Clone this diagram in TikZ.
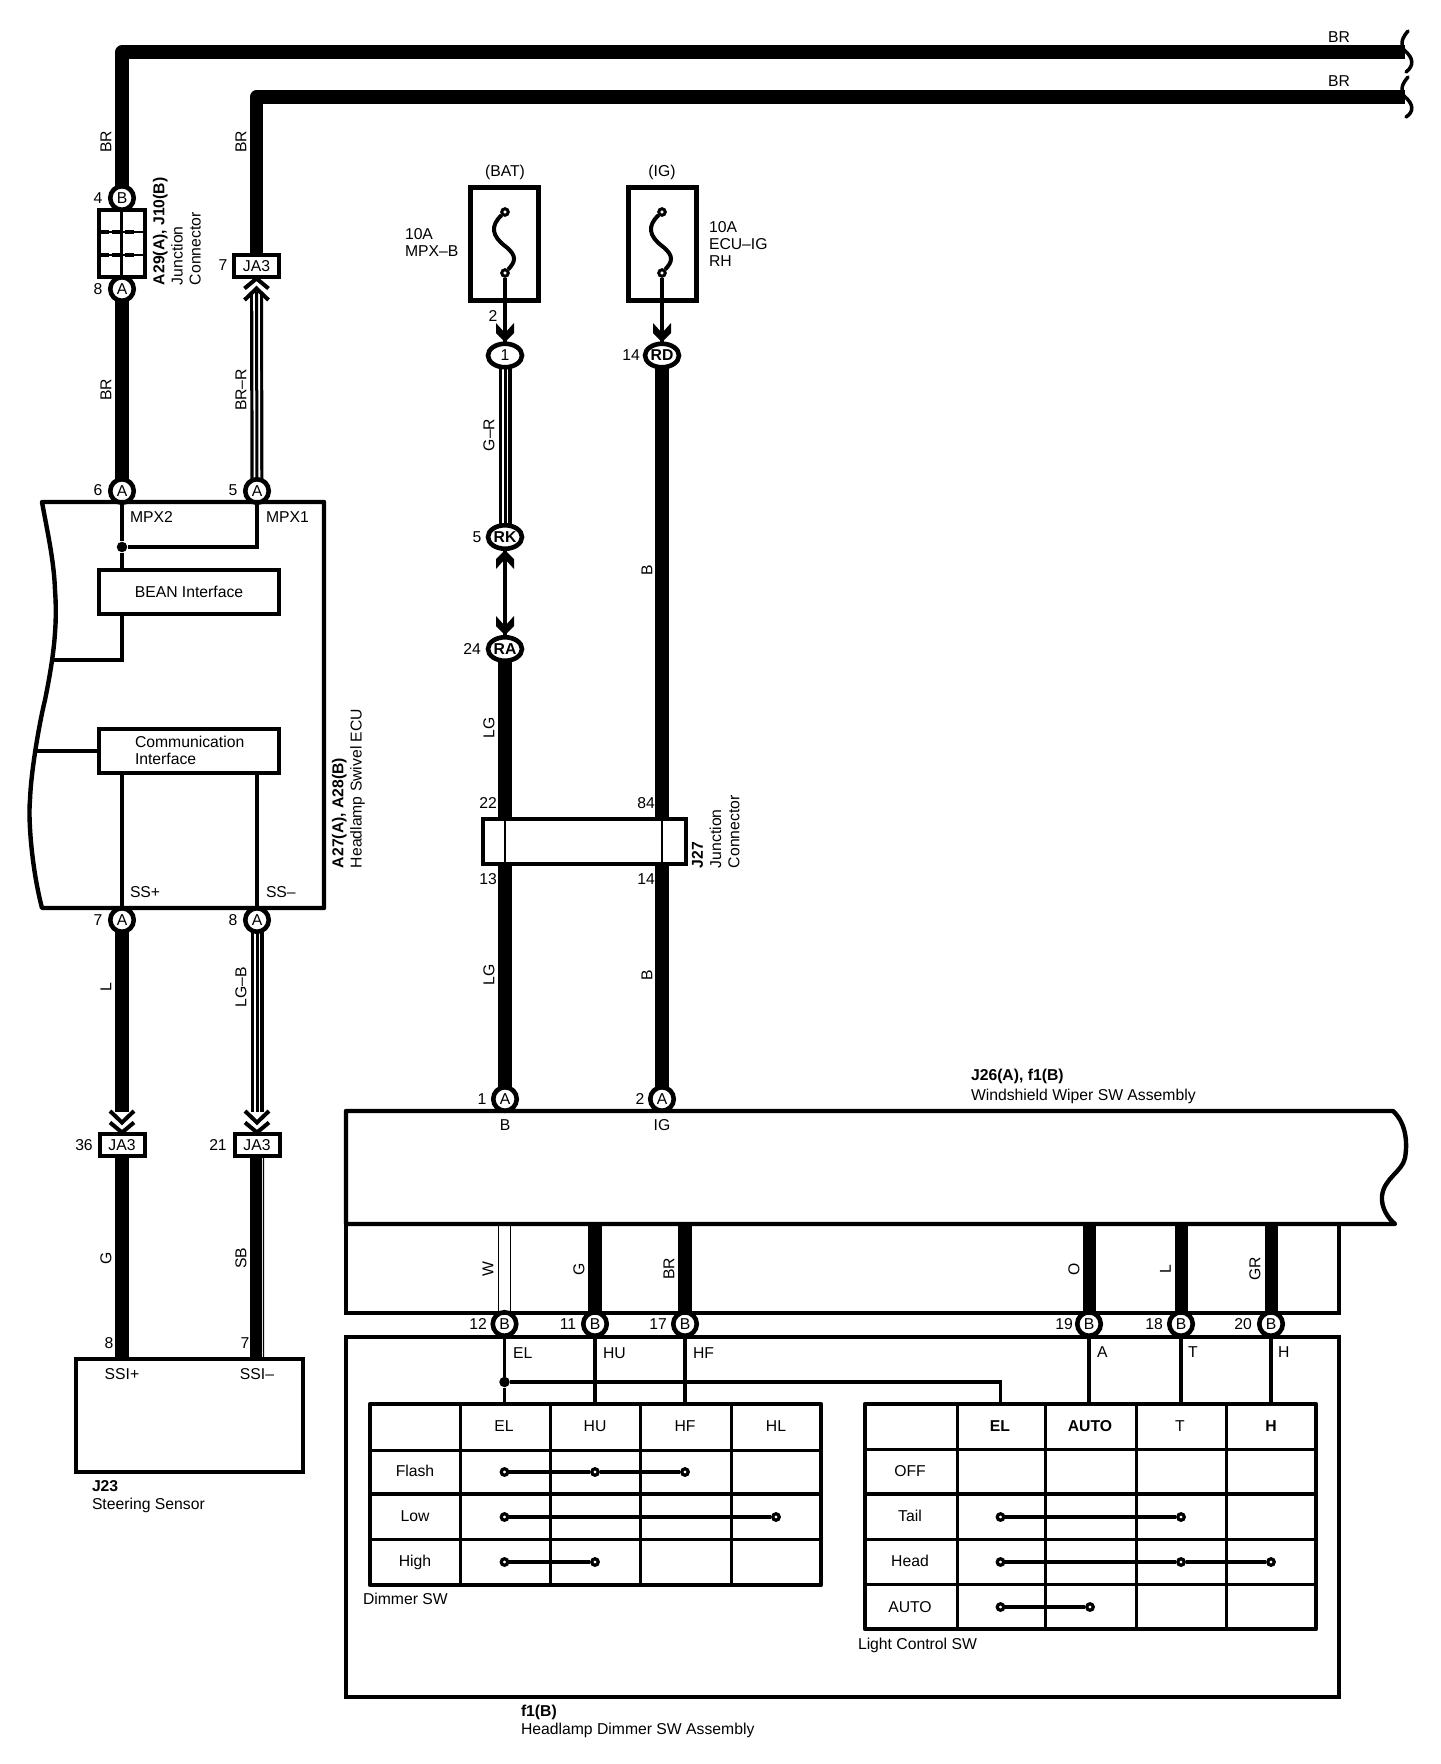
\documentclass[tikz,border=0pt]{standalone}
\usepackage{fontspec}
\setmainfont{Liberation Sans}
\usetikzlibrary{shapes.geometric,backgrounds}
\def\pxu{*0.75pt}
\tikzset{
  base/.style={font=\fontsize{11.8}{12.6}\selectfont, inner sep=0pt, outer sep=0pt},
  lab/.style={base},
  labl/.style={base, anchor=west},
  vlab/.style={base, rotate=90},
  vblock/.style={base, rotate=90, anchor=north west, align=left, font=\fontsize{11.8}{13.6}\selectfont},
  block/.style={base, anchor=north west, align=left},
  title block/.style={base, anchor=north west, align=left, font=\fontsize{11.8}{13.6}\selectfont},
  term/.style={base, circle, draw, fill=white, line width=4.6\pxu, minimum size=23.5\pxu},
  oval/.style={base, ellipse, draw, fill=white, line width=4.6\pxu, minimum width=34\pxu, minimum height=23.5\pxu},
  ja/.style={base, rectangle, draw, fill=white, line width=4\pxu, minimum width=45\pxu, minimum height=22\pxu},
  ebox/.style={base, rectangle, draw, line width=4\pxu},
  fusebox/.style={ebox, line width=4.4\pxu, minimum width=68\pxu, minimum height=113\pxu},
  fpin/.style={circle, draw, fill=white, line width=3\pxu, minimum size=6.5\pxu, inner sep=0pt},
  sdot/.style={circle, draw, fill=white, line width=3.2\pxu, minimum size=6.5\pxu, inner sep=0pt},
  jdot/.style={circle, fill=black, minimum size=10.5\pxu, inner sep=0pt},
  fat/.style={line width=13.5\pxu},
  thin wire/.style={line width=3.2\pxu},
  outline/.style={line width=4.4\pxu, line join=round},
  gridline/.style={line width=3\pxu},
  solidchev down/.pic={\fill (-9,-19) -- (0,-9) -- (9,-19) -- (9,-9) -- (0,0) -- (-9,-9) -- cycle;},
  solidchev up/.pic={\fill (-9,19) -- (0,9) -- (9,19) -- (9,9) -- (0,0) -- (-9,9) -- cycle;},
  openchev down/.pic={\draw[white, line width=5\pxu] (-8,-8) -- (0,-3) -- (8,-8);\draw[line width=4\pxu] (-12,-23) -- (0,-11.5) -- (12,-23) (-12,-11.5) -- (0,-1.5) -- (12,-11.5);},
  openchev up/.pic={\draw[line width=4\pxu] (-12,23) -- (0,11.5) -- (12,23) (-12,11.5) -- (0,1.5) -- (12,11.5);},
}
\newcommand\triplewire[2]{%
  \draw[fat, line width=13\pxu] (#1) -- (#2);
  \draw[white, line width=1.8\pxu, double=black, double distance=3\pxu] (#1) -- (#2);}
\begin{document}
\begin{tikzpicture}[x=0.75pt, y=-0.75pt]
\useasboundingbox (0,0) rectangle (1440,1764);

% ---------- terminals ----------
\node[term] (tB4) at (122,198) {B};
\node[term] (tA8) at (122,289) {A};
\node[term] (tA6) at (122,491) {A};
\node[term] (tA5) at (257,491) {A};
\node[term] (tA7) at (122,920) {A};
\node[term] (tA8b) at (257,920) {A};
\node[ja] (ja7) at (256.5,266) {JA3};
\node[ja] (ja36) at (122,1145) {JA3};
\node[ja] (ja21) at (257,1145) {JA3};
\node[oval] (o1) at (505,355.5) {1};
\node[oval] (oRD) at (662,355.5) {\bfseries RD};
\node[oval] (oRK) at (505,537) {\bfseries RK};
\node[oval] (oRA) at (505,649) {\bfseries RA};
\node[term] (tA1) at (505,1099) {A};
\node[term] (tA2) at (662,1099) {A};
\node[term] (tB12) at (504.5,1324) {B};
\node[term] (tB11) at (595,1324) {B};
\node[term] (tB17) at (685,1324) {B};
\node[term] (tB19) at (1089,1324) {B};
\node[term] (tB18) at (1181,1324) {B};
\node[term] (tB20) at (1271,1324) {B};

% ---------- fuses ----------
\node[fusebox] (fBAT) at (504.5,244) {};
\node[fusebox] (fIG) at (662.5,244) {};
\node[fpin] (fBt) at (505,212) {};
\node[fpin] (fBb) at (505,273) {};
\node[fpin] (fIt) at (662,212) {};
\node[fpin] (fIb) at (662,273) {};
\draw[line width=4\pxu] (fBt) .. controls (490,226) and (492,236) .. (505,246) .. controls (518,256) and (515,262) .. (fBb);
\draw[line width=4\pxu] (fIt) .. controls (647,226) and (649,236) .. (662,246) .. controls (675,256) and (672,262) .. (fIb);
\coordinate (chB) at (505,342);
\coordinate (chI) at (662,342);
\coordinate (chK) at (505,550);
\coordinate (chA) at (505,635);
\draw[thin wire] (fBb) -- (chB);
\draw[thin wire] (fIb) -- (chI);
\draw[thin wire] (chK) -- (chA);
\pic at (chB) {solidchev down};
\pic at (chI) {solidchev down};
\pic at (chK) {solidchev up};
\pic at (chA) {solidchev down};

% ---------- J27 ----------
\node[ebox, minimum width=203\pxu, minimum height=45\pxu, fill=white] (J27) at (584,841) {};

% ---------- wires, background layer so terminals sit over them ----------
\coordinate (endA) at (1405,52);
\coordinate (endB) at (1405,97);
\coordinate (cornA) at (122,52);
\coordinate (cornB) at (256.5,97);
\coordinate (upch) at (256.5,292);
\coordinate (dnL) at (122,1112);
\coordinate (dnB) at (257,1112);
\begin{pgfonlayer}{background}
\fill[white] (0,0) rectangle (1440,1764);
\draw[fat, line join=round] (tB4.center) -- (cornA) -- (endA);
\draw[fat, line join=round] (ja7.center) -- (cornB) -- (endB);
\draw[fat] (tA8.center) -- (tA6.center);
\triplewire{upch}{tA5.center}
\draw[fat] (tA7.center) -- (dnL);
\triplewire{tA8b.center}{dnB}
\draw[fat] (ja36.center) -- (122,1360);
\triplewire{o1.center}{oRK.center}
\draw[fat] (oRA.center) -- (505,820);
\draw[fat] (oRD.center) -- (662,820);
\draw[fat] (505,862) -- (tA1.center);
\draw[fat] (662,862) -- (tA2.center);
\end{pgfonlayer}
\draw[line width=2.5\pxu] (505,818) -- (505,864) (662,818) -- (662,864);
\pic at (ja7.south) {openchev up};
\pic at (ja36.north) {openchev down};
\pic at (ja21.north) {openchev down};

% SB wire with its thin white stripe
\begin{pgfonlayer}{background}
\draw[line width=11.5\pxu] ([xshift=-0.75pt]ja21.center) -- (256,1360);
\draw[line width=1.2\pxu] ([xshift=4.8pt]ja21.center) -- (263.4,1360);
\end{pgfonlayer}

% squiggle ends of the top wires
\draw[line width=3.5\pxu, line cap=round] (1408,31) .. controls (1402,38) and (1400,44) .. (1404,50) .. controls (1414,58) and (1414,66) .. (1406,72);
\draw[line width=3.5\pxu, line cap=round] (1408,77) .. controls (1402,84) and (1400,90) .. (1404,96) .. controls (1414,104) and (1414,112) .. (1406,117);

% ---------- junction connector A29/J10 ----------
\node[ebox, minimum width=46\pxu, minimum height=67\pxu, fill=white] (A29) at (121.5,243) {};
\draw[line width=3.5\pxu] (A29.north) -- (A29.south);
\draw[line width=1.5\pxu] (A29.west |- 0,232) -- (A29.east |- 0,232) (A29.west |- 0,255) -- (A29.east |- 0,255);
\draw[line width=4\pxu, dash pattern=on 9\pxu off 2.5\pxu on 11\pxu off 2.5\pxu on 9\pxu off 14\pxu] (100,232) -- (144,232);
\draw[line width=4\pxu, dash pattern=on 9\pxu off 2.5\pxu on 11\pxu off 2.5\pxu on 9\pxu off 14\pxu] (100,255) -- (144,255);

% ---------- Headlamp Swivel ECU ----------
\coordinate (ecuW1) at (52,660);
\coordinate (ecuW2) at (36,751);
\draw[outline] (42,502) -- (324,502) -- (324,908) -- (42,908)
  .. controls (32,870) and (28,820) .. (30,800)
  .. controls (31,770) and (40,720) .. (45,700)
  .. controls (52,665) and (58,630) .. (55,590)
  .. controls (54,560) and (47,530) .. cycle;
\node[ebox, minimum width=180\pxu, minimum height=44\pxu, fill=white] (bean) at (189,592) {};
\node[base] (beanText) at (bean.center) {BEAN Interface};
\node[ebox, minimum width=180\pxu, minimum height=44\pxu, fill=white] (comm) at (189,751) {};
\node[block, anchor=west] (commText) at (135,750) {Communication\\Interface};
\node[jdot] (dMPX) at (122,547) {};
\coordinate (mpx1top) at (257,502);
\draw[thin wire] (tA6) -- (dMPX) -- (bean.north -| dMPX);
\draw[thin wire] (tA5) -- (mpx1top) -- (257,547) -- (dMPX);
\draw[thin wire] (bean.south -| dMPX) -- (122,660) -- (ecuW1);
\draw[thin wire] (comm.west) -- (ecuW2);
\draw[thin wire] (comm.south -| tA7) -- (tA7);
\draw[thin wire] (comm.south -| tA8b) -- (tA8b);

% ---------- Steering sensor ----------
\node[ebox, minimum width=227\pxu, minimum height=113\pxu, fill=white] (J23) at (189,1415.5) {};

% ---------- Wiper SW assembly ----------
\coordinate (wipTL) at (346,1111);
\draw[outline] (wipTL) -- (1393,1111)
  .. controls (1405,1122) and (1408,1140) .. (1405,1158)
  .. controls (1402,1172) and (1384,1178) .. (1382,1196)
  .. controls (1381,1208) and (1388,1218) .. (1395,1224)
  -- (346,1224) -- cycle;
\node[ebox, minimum width=993\pxu, minimum height=89\pxu] (mid) at (842.5,1268.5) {};
\node[ebox, minimum width=993\pxu, minimum height=360\pxu] (f1box) at (842.5,1517) {};

% wires between assemblies
\coordinate (wW) at (504.5,1226);
\coordinate (wG) at (595,1226);
\coordinate (wBR) at (685,1226);
\coordinate (wO) at (1089,1226);
\coordinate (wL) at (1181,1226);
\coordinate (wGR) at (1271,1226);
\begin{pgfonlayer}{background}
\draw[line width=1.6\pxu, double=white, double distance=10.5\pxu] (wW) -- (tB12.center);
\draw[fat] (wG) -- (tB11.center);
\draw[fat] (wBR) -- (tB17.center);
\draw[fat, line width=13\pxu] (wO) -- (tB19.center);
\draw[fat, line width=13\pxu] (wL) -- (tB18.center);
\draw[fat, line width=13\pxu] (wGR) -- (tB20.center);
\end{pgfonlayer}

% ---------- Dimmer table ----------
\draw[outline] (370,1404) rectangle (821,1585);
\draw[gridline] (460,1404) -- (460,1585) (550,1404) -- (550,1585) (640,1404) -- (640,1585) (731,1404) -- (731,1585)
  (370,1450) -- (821,1450) (370,1539) -- (821,1539);
\draw[line width=3.6\pxu] (370,1494) -- (821,1494);
\node[lab] (dh1) at (504,1426) {EL};
\node[lab] (dh2) at (595,1426) {HU};
\node[lab] (dh3) at (685,1426) {HF};
\node[lab] (dh4) at (776,1426) {HL};
\node[lab] (dr1) at (415,1471) {Flash};
\node[lab] (dr2) at (415,1516) {Low};
\node[lab] (dr3) at (415,1562) {High};
\node[sdot] (fa) at (504.5,1472) {};
\node[sdot] (fb) at (595,1472) {};
\node[sdot] (fc) at (685,1472) {};
\node[sdot] (la) at (504.5,1517) {};
\node[sdot] (lb) at (776,1517) {};
\node[sdot] (ha) at (504.5,1562) {};
\node[sdot] (hb) at (595,1562) {};
\draw[thin wire] (fa) -- (fb) -- (fc);
\draw[thin wire] (la) -- (lb);
\draw[thin wire] (ha) -- (hb);

% ---------- Light control table ----------
\draw[outline] (865,1404) rectangle (1316,1629);
\draw[gridline] (957,1404) -- (957,1629) (1045,1404) -- (1045,1629) (1136,1404) -- (1136,1629) (1226,1404) -- (1226,1629)
  (865,1449) -- (1316,1449) (865,1539) -- (1316,1539) (865,1584) -- (1316,1584);
\draw[line width=3.4\pxu] (865,1494) -- (1316,1494);
\node[lab] (lh1) at (1000,1426) {\bfseries EL};
\node[lab] (lh2) at (1090,1426) {\bfseries AUTO};
\node[lab] (lh3) at (1180,1426) {T};
\node[lab] (lh4) at (1271,1426) {\bfseries H};
\node[lab] (lr1) at (910,1471) {OFF};
\node[lab] (lr2) at (910,1516) {Tail};
\node[lab] (lr3) at (910,1561) {Head};
\node[lab] (lr4) at (910,1607) {AUTO};
\node[sdot] (ta) at (1000.5,1517) {};
\node[sdot] (tb) at (1181,1517) {};
\node[sdot] (ga) at (1000.5,1562) {};
\node[sdot] (gb) at (1181,1562) {};
\node[sdot] (gc) at (1271,1562) {};
\node[sdot] (aa) at (1000.5,1607) {};
\node[sdot] (ab) at (1090,1607) {};
\draw[thin wire] (ta) -- (tb);
\draw[thin wire] (ga) -- (gb) -- (gc);
\draw[thin wire] (aa) -- (ab);

% thin wires down to the tables
\coordinate (topEL) at (504.5,1404);
\coordinate (topHU) at (595,1404);
\coordinate (topHF) at (685,1404);
\coordinate (topA) at (1089,1404);
\coordinate (topT) at (1181,1404);
\coordinate (topH) at (1271,1404);
\coordinate (topEL2) at (1000.5,1404);
\node[jdot] (dEL) at (504.5,1382) {};
\draw[thin wire] (tB12) -- (dEL) -- (topEL);
\draw[thin wire] (tB11) -- (topHU);
\draw[thin wire] (tB17) -- (topHF);
\draw[thin wire] (tB19) -- (topA);
\draw[thin wire] (tB18) -- (topT);
\draw[thin wire] (tB20) -- (topH);
\draw[thin wire] (dEL) -- (1000.5,1382) -- (topEL2);

% ---------- labels ----------
\node[lab] (nBRa) at (1339,37) {BR};
\node[lab] (nBRb) at (1339,81) {BR};
\node[vlab] (nBR1) at (106,142) {BR};
\node[vlab] (nBR2) at (241,142) {BR};
\node[lab] (n4) at (98,198) {4};
\node[lab] (n8) at (98,289) {8};
\node[lab] (n7t) at (223,265) {7};
\node[vblock] (nA29) at (153,285) {\bfseries A29(A), J10(B)\\Junction\\Connector};
\node[vlab] (nBR3) at (106,390) {BR};
\node[vlab] (nBRR) at (241,390) {BR–R};
\node[lab] (n6) at (98,490) {6};
\node[lab] (n5) at (233,490) {5};
\node[labl] (nMPX2) at (130,517) {MPX2};
\node[labl] (nMPX1) at (266,517) {MPX1};
\node[labl] (nSSp) at (130,892) {SS+};
\node[labl] (nSSm) at (266,892) {SS–};
\node[lab] (n7) at (98,920) {7};
\node[lab] (n8b) at (233,920) {8};
\node[vblock] (nA27) at (332,868) {\bfseries A27(A), A28(B)\\Headlamp Swivel ECU};
\node[vlab] (nL) at (106,987) {L};
\node[vlab] (nLGB) at (241,987) {LG–B};
\node[lab] (n36) at (84,1145) {36};
\node[lab] (n21) at (218,1145) {21};
\node[vlab] (nG) at (106,1258) {G};
\node[vlab] (nSB) at (241,1258) {SB};
\node[lab] (n8c) at (109,1343) {8};
\node[lab] (n7c) at (245,1343) {7};
\node[lab] (nSSIp) at (122,1374) {SSI+};
\node[lab] (nSSIm) at (257,1374) {SSI–};
\node[title block] (nJ23) at (92,1480) {\bfseries J23\\Steering Sensor};
\node[lab] (nBAT) at (505,172) {(BAT)};
\node[lab] (nIG) at (662,172) {(IG)};
\node[block] (nMPXB) at (405,229) {10A\\MPX–B};
\node[block] (nECU) at (709,222) {10A\\ECU–IG\\RH};
\node[lab] (n2) at (493,316) {2};
\node[lab] (n14) at (631,355) {14};
\node[vlab] (nGR) at (489,435) {G–R};
\node[vlab] (nB) at (647,570) {B};
\node[lab] (n5b) at (477,537) {5};
\node[lab] (n24) at (472,649) {24};
\node[vlab] (nLG) at (489,728) {LG};
\node[lab] (n22) at (488,803) {22};
\node[lab] (n84) at (646,803) {84};
\node[lab] (n13) at (488,879) {13};
\node[lab] (n14b) at (646,879) {14};
\node[vblock] (nJ27) at (692,868) {\bfseries J27\\Junction\\Connector};
\node[vlab] (nLG2) at (489,975) {LG};
\node[vlab] (nB2) at (647,975) {B};
\node[lab] (n1) at (482,1099) {1};
\node[lab] (n2b) at (640,1099) {2};
\node[lab] (nBp) at (505,1125) {B};
\node[lab] (nIGp) at (662,1125) {IG};
\node[base, anchor=north west, align=left, font=\fontsize{11.8}{15}\selectfont] (nJ26) at (971,1069) {\bfseries J26(A), f1(B)\\Windshield Wiper SW Assembly};
\node[vlab] (nW) at (488,1269) {W};
\node[vlab] (nG2) at (579,1269) {G};
\node[vlab] (nBR4) at (669,1269) {BR};
\node[vlab] (nO) at (1074,1269) {O};
\node[vlab] (nL2) at (1165.5,1269) {L};
\node[vlab] (nGRy) at (1255,1269) {GR};
\node[lab] (n12) at (478,1324) {12};
\node[lab] (n11) at (568,1324) {11};
\node[lab] (n17) at (658,1324) {17};
\node[lab] (n19) at (1064,1324) {19};
\node[lab] (n18) at (1154,1324) {18};
\node[lab] (n20) at (1243,1324) {20};
\node[labl] (nEL) at (513,1353) {EL};
\node[labl] (nHU) at (603,1353) {HU};
\node[labl] (nHF) at (693,1353) {HF};
\node[labl] (nA) at (1097,1352) {A};
\node[labl] (nT) at (1188,1352) {T};
\node[labl] (nH) at (1278,1352) {H};
\node[labl] (nDim) at (363,1599) {Dimmer SW};
\node[labl] (nLight) at (858,1645) {Light Control SW};
\node[title block] (nf1) at (521,1705) {\bfseries f1(B)\\Headlamp Dimmer SW Assembly};
\end{tikzpicture}
\end{document}
